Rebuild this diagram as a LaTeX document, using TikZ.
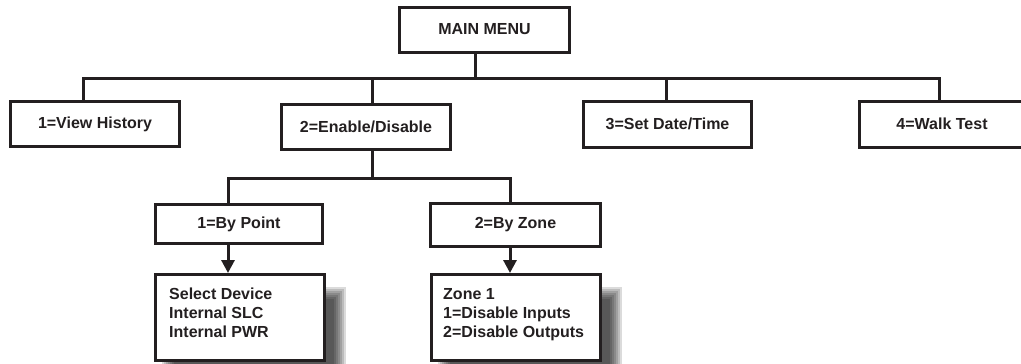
\documentclass[tikz,border=0pt]{standalone}
\usepackage{fontspec}
\setmainfont{Liberation Sans}
\usetikzlibrary{arrows.meta}
\definecolor{ink}{HTML}{231F20}
\tikzset{
  box/.style={draw=ink, line width=3pt, fill=white, inner sep=0pt,
    font=\bfseries\fontsize{16}{19}\selectfont, text=ink},
  conn/.style={draw=ink, line width=3pt},
  arr/.style={draw=ink, line width=3pt, -{Triangle[width=13pt,length=13pt]}},
  textblk/.style={align=left, inner sep=0pt, anchor=north west,
    font=\bfseries\fontsize{16}{19}\selectfont, text=ink},
}
\newcommand{\softshadow}[4]{% x1 y1 x2 y2 of core rectangle
  \foreach \e in {6,4,2,0,-2,-4,-6}{
    \fill[black, opacity=0.14] (#1-\e,#2-\e) rectangle (#3+\e,#4+\e);
  }
}
\begin{document}
\begin{tikzpicture}[x=1pt,y=-1pt]
\useasboundingbox (0,0) rectangle (1021,364);
\clip (0,0) rectangle (1021,364);

% shadows
\softshadow{168}{293}{340}{384}
\softshadow{444}{293}{616}{384}

% top level
\node[box, minimum width=170pt, minimum height=45pt] (main) at (484.5,29.5) {MAIN MENU};
\node[box, minimum width=169pt, minimum height=45pt] (hist) at (95,124) {1=View History};
\node[box, minimum width=169pt, minimum height=45pt] (enab) at (366,127) {2=Enable/Disable};
\node[box, minimum width=168pt, minimum height=46pt] (date) at (667.5,124) {3=Set Date/Time};
\node[box, minimum width=166pt, minimum height=46pt] (walk) at (942,124) {4=Walk Test};

\coordinate (bus) at (475,78);
\coordinate (busL) at (83,78);
\coordinate (busR) at (939,78);
\draw[conn] ([xshift=-9.5pt]main.south) -- (bus);
\draw[conn] (hist.north -| busL) -- (busL) -- (busR) -- (walk.north -| busR);
\draw[conn] (enab.north -| 372,0) -- (372,78);
\draw[conn] (date.north -| 666,0) -- (666,78);

% second level
\node[box, minimum width=167pt, minimum height=39pt] (point) at (239,224) {1=By Point};
\node[box, minimum width=170pt, minimum height=43pt] (zone) at (515.5,225) {2=By Zone};
\coordinate (sub) at (372,178);
\draw[conn] (enab.south -| sub) -- (sub);
\draw[conn] (point.north -| 228,0) -- (228,178) -- (510,178) -- (zone.north -| 510,0);

% third level
\node[box, minimum width=169pt, minimum height=86pt] (sel) at (240,317.5) {};
\node[box, minimum width=169pt, minimum height=86pt] (zbox) at (516,317.5) {};
\node[textblk] (seltxt) at (169,287.5) {Select Device\\Internal SLC\\Internal PWR};
\node[textblk] (zonetxt) at (443,288.5) {Zone 1\\1=Disable Inputs\\2=Disable Outputs};

\draw[arr] (point.south -| 228,0) -- (sel.north -| 228,0);
\draw[arr] (zone.south -| 510,0) -- (zbox.north -| 510,0);
\end{tikzpicture}
\end{document}
